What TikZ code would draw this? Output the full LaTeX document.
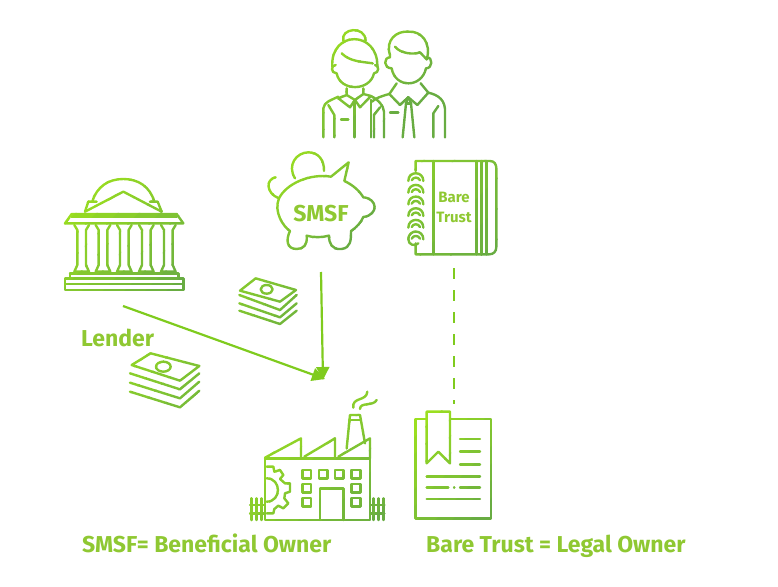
\documentclass[tikz,border=0pt]{standalone}
\usepackage{fontspec}
\setmainfont{Fira Sans}
\usetikzlibrary{arrows.meta}
\definecolor{gradA}{HTML}{A6EA18}
\definecolor{gradB}{HTML}{68AC42}
\definecolor{linkgreen}{HTML}{7FCB1E}
\definecolor{labelgreen}{HTML}{8FC832}
\newcommand{\gradicon}[2]{%
  \foreach \k in {0,...,11}{%
    \pgfmathsetmacro\ga{\k==0 ? -#1 : #1*\k/12}%
    \pgfmathsetmacro\gb{\k==11 ? 3*#1 : #1*(\k+1)/12+4}%
    \pgfmathsetmacro\gp{100-\k*100/11}%
    \colorlet{gradc}{gradA!\gp!gradB}%
    \begin{scope}
      \clip (\ga,0) -- (\gb,0) -- ({\gb-3*#1},{3*#1}) -- ({\ga-3*#1},{3*#1}) -- cycle;
      #2
    \end{scope}
  }%
}
\tikzset{
  ic/.style={draw=gradc,line cap=round,line join=round,line width=#1},
  ic/.default=2.4pt,
  icf/.style={fill=gradc,draw=none},
  link/.style={draw=linkgreen,line width=2.2pt},
  label/.style={text=labelgreen,font=\bfseries,inner sep=0pt,anchor=base west},
}
\begin{document}
\begin{tikzpicture}[x=1pt,y=-1pt]
\useasboundingbox (0,0) rectangle (778,586);
% people
\begin{scope}[shift={(300,20)},scale=1/3]
\gradicon{600}{
  \path[ic] (130,62) .. controls (120,25) and (195,15) .. (197,62);
  \path[ic] (97,140) .. controls (90,30) and (235,30) .. (232,140);
  \path[ic] (125,100) .. controls (150,125) and (185,125) .. (218,130);
  \path[ic] (107,135) .. controls (92,135) and (92,160) .. (110,160);
  \path[ic] (225,135) .. controls (238,135) and (238,160) .. (222,160);
  \path[ic] (110,160) .. controls (120,215) and (210,215) .. (222,160);
  \path[ic] (140,205) -- (140,225) -- (115,235) -- (150,262) -- (165,240) -- (180,262) -- (213,228) -- (190,222) -- (190,205);
  \path[ic] (140,225) -- (165,240) -- (190,222);
  \path[ic] (70,352) -- (70,265) .. controls (72,245) and (95,240) .. (115,230);
  \path[ic] (103,352) -- (103,285) -- (85,255);
  \path[ic] (163,352) -- (163,245);
  \path[ic] (213,352) -- (213,240);
  \path[ic] (252,352) -- (252,275) .. controls (250,255) and (235,240) .. (213,228);
  \path[ic] (222,352) -- (222,285) -- (240,262);
  \path[ic] (123,298) -- (145,298);
  \path[ic] (270,105) .. controls (255,60) and (290,32) .. (325,35) .. controls (365,32) and (395,70) .. (380,118);
  \path[ic] (285,80) .. controls (300,100) and (340,105) .. (360,97) -- (380,118);
  \path[ic] (270,105) -- (270,112) .. controls (250,112) and (250,145) .. (275,145);
  \path[ic] (380,112) .. controls (400,112) and (398,145) .. (378,145);
  \path[ic] (275,145) .. controls (285,205) and (365,205) .. (378,145);
  \path[ic] (290,190) -- (268,222) -- (300,255) -- (325,232) -- (352,255) -- (385,218) -- (362,190);
  \path[ic] (325,232) -- (318,250) -- (308,352);
  \path[ic] (325,232) -- (333,250) -- (343,352);
  \path[ic] (318,250) -- (333,250);
  \path[ic] (268,222) .. controls (245,228) and (225,235) .. (216,245);
  \path[ic] (385,218) .. controls (415,225) and (438,240) .. (435,280) -- (435,352);
  \path[ic] (400,352) -- (400,280) -- (415,258);
  \path[ic] (270,277) -- (295,277);
}
\end{scope}
% piggy bank
\begin{scope}[shift={(255,145)},scale=1/3]
\gradicon{600}{
  \path[ic] (120,100) .. controls (95,60) and (125,22) .. (160,22) .. controls (190,22) and (208,45) .. (207,78);
  \path[ic] (62,97) .. controls (32,102) and (32,145) .. (72,160);
  \path[ic] (72,160) .. controls (95,115) and (165,85) .. (228,95) -- (281,52) -- (268,108) .. controls (295,120) and (315,140) .. (325,157)
     .. controls (368,160) and (372,210) .. (325,216) .. controls (318,232) and (305,247) .. (288,258)
     .. controls (288,285) and (288,308) .. (260,312) .. controls (230,315) and (222,295) .. (222,272)
     .. controls (200,278) and (175,278) .. (155,272) .. controls (158,300) and (145,312) .. (125,312)
     .. controls (95,312) and (92,285) .. (105,258) .. controls (85,245) and (55,200) .. (72,160);
}
\end{scope}
% notebook
\begin{scope}[shift={(255,145)},scale=1/3]
\gradicon{1100}{
  \path[ic] (482,78) -- (482,48) -- (705,48) .. controls (718,48) and (724,58) .. (724,70) -- (724,305) .. controls (724,320) and (716,328) .. (702,328) -- (482,328) -- (482,295);
  \path[ic] (535,48) -- (535,328);
  \path[ic] (665,48) -- (665,328);
  \path[ic] (680,48) -- (680,328);
  \path[ic] (695,48) -- (695,328);
  \foreach \ry in {85,120,155,190,225,260}{
    \path[ic] (505,\ry+23) .. controls (505,\ry-8) and (460,\ry-8) .. (460,\ry+23);
    \path[ic] (495,\ry+21) .. controls (490,\ry+10) and (475,\ry+10) .. (470,\ry+21);
  }
  \path[ic] (460,283) .. controls (460,300) and (480,305) .. (490,295);
}
\end{scope}
% bank
\begin{scope}[shift={(55,170)},scale=1/3]
\gradicon{760}{
  \path[ic] (112,95) .. controls (125,50) and (160,27) .. (205,27) .. controls (250,27) and (285,50) .. (298,95);
  \path[ic] (90,125) -- (205,65) -- (320,125);
  \path[ic] (90,125) -- (100,95) -- (125,95);
  \path[ic] (320,125) -- (308,95) -- (285,95);
  \path[ic] (30,160) -- (50,132) -- (365,132) -- (385,160) -- cycle;
  \path[ic] (50,140) -- (365,140);
  \foreach \cx in {80,144,208,274,340}{
    \path[ic] (\cx-22,165) -- (\cx-13,180) -- (\cx-13,285) -- (\cx-22,305) -- (\cx+22,305) -- (\cx+13,285) -- (\cx+13,180) -- (\cx+22,165);
  }
  \path[ic] (45,310) -- (370,310) -- (370,322);
  \path[ic] (45,310) -- (45,322);
  \path[ic] (30,325) rectangle (385,360);
  \path[ic] (30,342) -- (385,342);
}
\end{scope}
% money
\begin{scope}[shift={(120,270)},scale=1/3]
\gradicon{800}{
  \path[ic] (360,62) -- (407,25) -- (528,60) -- (480,95) -- cycle;
  \path[ic] (440,58) ellipse [x radius=18,y radius=13];
  \path[ic] (358,75) -- (480,120) -- (530,75);
  \path[ic] (358,100) -- (480,142) -- (530,100);
  \path[ic] (358,122) -- (480,162) -- (530,122);
  \path[ic] (35,285) -- (92,250) -- (238,288) -- (180,332) -- cycle;
  \path[ic] (130,290) ellipse [x radius=22,y radius=15];
  \path[ic] (30,310) -- (180,358) -- (238,310);
  \path[ic] (30,338) -- (180,385) -- (238,335);
  \path[ic] (30,365) -- (180,412) -- (238,362);
}
\end{scope}
% factory
\begin{scope}[shift={(245,385)},scale=1/3]
\gradicon{850}{
  \path[ic] (60,405) -- (60,220) -- (375,220) -- (375,405) -- cycle;
  \path[ic] (60,218) -- (168,160) -- (168,215);
  \path[ic] (178,215) -- (270,160) -- (270,215);
  \path[ic] (280,215) -- (375,160) -- (375,220);
  \path[ic] (305,190) -- (315,90) -- (345,90) -- (360,175);
  \path[ic] (312,105) -- (348,105);
  \path[ic] (325,68) .. controls (320,35) and (365,50) .. (367,20);
  \path[ic] (345,72) .. controls (345,50) and (385,65) .. (395,45);
  \path[ic] (65,245) -- (85,245) -- (88,260) -- (105,255) -- (115,270) -- (105,282) -- (120,295) -- (135,295) -- (135,320) -- (120,325) -- (118,340) -- (130,355) -- (115,370) -- (100,362) -- (88,372) -- (85,385) -- (65,385);
  \path[ic] (65,280) .. controls (110,280) and (110,350) .. (65,350);
  \foreach \wx/\wy in {185/268,235/268,283/268,333/268,185/310,333/310,185/352,333/352}{
    \path[ic] ({\wx-13},{\wy-13}) rectangle ({\wx+13},{\wy+13});
  }
  \path[ic] (225,405) -- (225,310) -- (295,310) -- (295,405);
  \path[ic] (20,340) -- (20,405);
  \path[ic] (35,340) -- (35,405);
  \path[ic] (50,340) -- (50,405);
  \path[ic] (15,360) -- (58,360);
  \path[ic] (15,385) -- (58,385);
  \path[ic] (385,340) -- (385,405);
  \path[ic] (400,340) -- (400,405);
  \path[ic] (415,340) -- (415,405);
  \path[ic] (378,360) -- (418,360);
  \path[ic] (378,385) -- (418,385);
}
\end{scope}
% document
\begin{scope}[shift={(405,395)},scale=1/3]
\gradicon{620}{
  \path[ic] (65,72) -- (32,72) -- (32,370) -- (258,370) -- (258,72) -- (135,72);
  \path[ic] (65,50) -- (135,50) -- (135,205) -- (100,170) -- (65,205) -- cycle;
  \path[ic] (165,132) -- (225,132);
  \path[ic] (165,170) -- (225,170);
  \path[ic] (165,208) -- (225,208);
  \path[ic] (65,245) -- (225,245);
  \path[ic] (65,278) -- (130,278);
  \path[ic] (147,278) -- (148,278);
  \path[ic] (165,278) -- (225,278);
  \path[ic] (65,312) -- (225,312);
}
\end{scope}
% anchors
\coordinate (lenderstart) at (123,306);
\coordinate (lendertip) at (325,379);
\coordinate (fundstart) at (321,272);
\coordinate (fundtip) at (323,380);
\coordinate (truststart) at (454,268);
\coordinate (docend) at (454,404);
\draw[link,-{Triangle[length=13pt,width=13pt]}] (lenderstart) -- (lendertip);
\draw[link,-{Triangle[length=13pt,width=13pt]}] (fundstart) -- (fundtip);
\draw[link,dash pattern=on 11pt off 11pt] (truststart) -- (docend);
% text
\node[label,font=\bfseries\fontsize{23}{26}\selectfont] (lender) at (81,346) {Lender};
\node[label,font=\bfseries\fontsize{23}{26}\selectfont] (smsfeq) at (82,552) {SMSF= Beneficial Owner};
\node[label,font=\bfseries\fontsize{23}{26}\selectfont] (bareeq) at (426,552) {Bare Trust = Legal Owner};
\node[label,anchor=base,font=\bfseries\fontsize{23}{26}\selectfont] (smsf) at (321,221) {SMSF};
\node[label,anchor=base,font=\bfseries\fontsize{15}{18}\selectfont] (bare) at (454,202) {Bare};
\node[label,anchor=base,font=\bfseries\fontsize{15}{18}\selectfont] (trust) at (454,222) {Trust};
\end{tikzpicture}
\end{document}
